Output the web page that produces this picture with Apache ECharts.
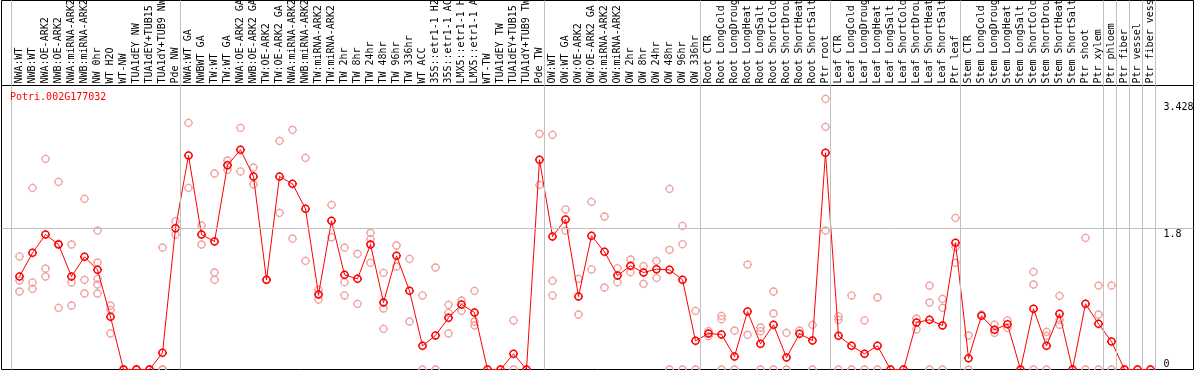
<!DOCTYPE html>
<html>
<head>
<meta charset="utf-8">
<script src="https://cdn.jsdelivr.net/npm/echarts@6/dist/echarts.min.js"></script>
<style>
html,body{margin:0;padding:0;background:#fff;}
#c{width:1194px;height:370px;}
</style>
</head>
<body>
<div id="c"></div>
<script>
const categories = [
  "NWA:WT","NWB:WT","NWA:OE-ARK2","NWB:OE-ARK2","NWA:miRNA-ARK2","NWB:miRNA-ARK2","NW 0hr","WT H2O","WT-NW","TUA1dEY NW","TUA1dEY+TUB15 NW","TUA1dY+TUB9 NW","Pde NW",
  "NWA:WT GA","NWBWT GA","TW:WT","TW:WT GA","NWA:OE-ARK2 GA","NWB:OE-ARK2 GA","TW:OE-ARK2","TW:OE-ARK2 GA","NWA:miRNA-ARK2 GA","NWB:miRNA-ARK2 GA","TW:miRNA-ARK2","TW:miRNA-ARK2 GA",
  "TW 2hr","TW 8hr","TW 24hr","TW 48hr","TW 96hr","TW 336hr","WT ACC","35S::etr1-1 H2O","35S::etr1-1 ACC","LMX5::etr1-1 H2O","LMX5::etr1-1 ACC","WT-TW","TUA1dEY TW","TUA1dEY+TUB15 TW","TUA1dY+TUB9 TW","Pde TW",
  "OW:WT","OW:WT GA","OW:OE-ARK2","OW:OE-ARK2 GA","OW:miRNA-ARK2","OW:miRNA-ARK2 GA","OW 2hr","OW 8hr","OW 24hr","OW 48hr","OW 96hr","OW 336hr",
  "Root CTR","Root LongCold","Root LongDrought","Root LongHeat","Root LongSalt","Root ShortCold","Root ShortDrought","Root ShortHeat","Root ShortSalt","Ptr root",
  "Leaf CTR","Leaf LongCold","Leaf LongDrought","Leaf LongHeat","Leaf LongSalt","Leaf ShortCold","Leaf ShortDrought","Leaf ShortHeat","Leaf ShortSalt","Ptr leaf",
  "Stem CTR","Stem LongCold","Stem LongDrought","Stem LongHeat","Stem LongSalt","Stem ShortCold","Stem ShortDrought","Stem ShortHeat","Stem ShortSalt","Ptr shoot",
  "Ptr xylem","Ptr phloem","Ptr fiber","Ptr vessel","Ptr fiber vessel"
];

const means = [
  1.187,1.489,1.723,1.596,1.187,1.438,1.272,0.672,0,0,0,0.213,1.804,
  2.732,1.723,1.634,2.609,2.804,2.464,1.145,2.464,2.370,2.051,0.957,1.898,
  1.209,1.157,1.596,0.855,1.451,1.004,0.302,0.434,0.660,0.830,0.728,0,0,0.200,0,2.677,
  1.698,1.915,0.932,1.706,1.502,1.200,1.323,1.238,1.281,1.272,1.145,0.366,
  0.460,0.447,0.166,0.740,0.328,0.570,0.153,0.455,0.370,2.766,
  0.430,0.302,0.200,0.302,0,0,0.600,0.634,0.562,1.617,
  0.145,0.685,0.506,0.579,0,0.774,0.302,0.711,0,0.838,
  0.583,0.357,0,0,0
];

const replicates = [
  [1.443,1.136,0.996],[2.319,1.111,1.030],[2.689,1.289,1.187],[2.396,0.787,1.605],[1.596,1.111,0.817],[2.179,1.145,0.970],
  [1.774,1.366,1.157,1.085,0.970],[0.817,0.762,0.460],[0,0,0],[0,0,0],[0,0,0],[1.557,0,0],[1.894,1.723],
  [3.149,2.319],[1.838,1.596],[2.502,1.238,1.145],[2.668,2.549],[3.085,2.528],[2.579,2.362],[1.145],[2.919,2.000],[3.060,1.672],
  [2.702,1.387],[1.017,0.894],[2.102,1.689],
  [1.557,1.115,0.945],[1.477,0.838],[1.745,1.664,1.362],[1.234,0.779,0.519],[1.583,1.315],[1.413,0.613],[0.945,0],[1.302,0],
  [0.826,0.723,0.460],[0.881,0.749],[1.004,0.613,0.562],[0],[0],[0.626,0],[0],[3.009,2.357],
  [2.996,1.132,0.945],[2.043,1.774],[1.157,0.702],[2.140,1.277],[1.953,1.047],[1.294,1.115],[1.404,1.243],[1.319,1.094],
  [1.387,1.170],[2.306,1.528,0],[1.834,1.600,0],[0.749,0],
  [0.489,0.426],[0.685,0.643,0],[0.498,0],[1.340,0.443],[0.536,0.489,0],[0.996,0.715,0],[0.468,0],[0.498],[0.570,0],[3.455,3.098,1.774],
  [0.677,0.634,0],[0.945,0],[0.626,0],[0.919,0],[0],[0],[0.651,0.511],[1.072,0.855,0],[0.902,0.787,0],[1.936,1.562,1.362],
  [0.434,0],[0.702],[0.574,0.468],[0.626,0.532],[0],[1.247,1.085,0],[0.481,0.430,0],[0.940,0.634,0.570],[0],[1.681,0],
  [1.072,0.702,0],[1.072,0],[0],[0],[0]
];

// index of the last category in each group (-1 = left edge)
const groupEnds = [-1, 12, 40, 52, 62, 72, 83, 84, 85, 86, 87];
const yTickLabels = [0, 1.8, 3.428];
const title = "Potri.002G177032";

const FONT = "DejaVu Sans Mono";
const GRIDC = "#c0c0c0";
// small open circle with tiny stubs at top/bottom/left/right
const SYM = "path://M4.5 0L4.5 1M4.5 8L4.5 9M0 4.5L1 4.5M8 4.5L9 4.5" +
  "M1 4.5C1 2.567 2.567 1 4.5 1C6.433 1 8 2.567 8 4.5C8 6.433 6.433 8 4.5 8C2.567 8 1 6.433 1 4.5Z";

const PX0 = 19.5, STEP = 13, GL = 1.5, GR = 0.5, W = 1194;
const xMin = (GL - PX0) / STEP;
const xMax = (W - GR - PX0) / STEP;
const yMax = 3.6255;

const repPoints = [];
replicates.forEach((arr, i) => arr.forEach(v => repPoints.push([i, v])));
const meanPoints = means.map((v, i) => [i, v]);
const sepLines = groupEnds.map(k => ({ xAxis: k + 5 / 13 }));

const chart = echarts.init(document.getElementById('c'), null, { renderer: 'canvas' });
chart.setOption({
  animation: false,
  backgroundColor: '#fff',
  title: {
    text: title, left: 10, top: 92, padding: 0,
    textStyle: { color: '#ff0000', fontFamily: FONT, fontSize: 10, fontWeight: 'normal' }
  },
  grid: [
    { left: GL, right: GR, top: 85.5, bottom: 0.5, show: true, borderColor: '#000', borderWidth: 1, backgroundColor: 'transparent', outerBoundsMode: 'none', containLabel: false },
    { left: GL, right: GR, top: 0.5, height: 85, show: true, borderColor: '#000', borderWidth: 1, backgroundColor: 'transparent', outerBoundsMode: 'none', containLabel: false },
    { left: PX0 - STEP / 2, width: STEP * categories.length, top: 85.5, bottom: 0.5, outerBoundsMode: 'none', containLabel: false }
  ],
  xAxis: [
    { type: 'value', gridIndex: 0, min: xMin, max: xMax, show: false },
    { type: 'value', gridIndex: 1, min: xMin, max: xMax, show: false },
    {
      type: 'category', gridIndex: 2, position: 'top', data: categories, boundaryGap: true,
      axisLine: { show: false }, axisTick: { show: false }, splitLine: { show: false },
      axisLabel: { interval: 0, rotate: 90, margin: 2, fontFamily: FONT, fontSize: 10, color: '#000', hideOverlap: false }
    }
  ],
  yAxis: [
    {
      type: 'value', gridIndex: 0, min: 0, max: yMax, position: 'right',
      axisLine: { show: false }, axisTick: { show: false }, splitLine: { show: false },
      axisLabel: { inside: true, customValues: [yTickLabels[0]], verticalAlign: 'bottom', align: 'left', margin: 30, fontFamily: FONT, fontSize: 10, color: '#000', showMinLabel: true }
    },
    {
      type: 'value', gridIndex: 0, min: 0, max: yMax, position: 'right',
      axisLine: { show: false }, axisTick: { show: false }, splitLine: { show: false },
      axisLabel: { inside: true, customValues: yTickLabels.slice(1), verticalAlign: 'top', align: 'left', margin: 30, padding: [1, 0, 0, 0], fontFamily: FONT, fontSize: 10, color: '#000' }
    },
    { type: 'value', gridIndex: 1, min: 0, max: 1, show: false },
    { type: 'value', gridIndex: 2, min: 0, max: 1, show: false }
  ],
  series: [
    {
      type: 'scatter', xAxisIndex: 0, yAxisIndex: 0, data: repPoints,
      symbol: SYM, symbolSize: 9, z: 2, silent: true,
      itemStyle: { color: 'rgba(0,0,0,0)', borderColor: '#f0a0a0', borderWidth: 1.3, opacity: 1 },
      emphasis: { disabled: true },
      markLine: {
        silent: true, symbol: ['none', 'none'], label: { show: false }, animation: false,
        lineStyle: { color: GRIDC, width: 1, type: 'solid' },
        emphasis: { disabled: true },
        data: sepLines.concat([{ yAxis: 1.8 }])
      }
    },
    {
      type: 'scatter', xAxisIndex: 1, yAxisIndex: 2, data: [], silent: true,
      markLine: {
        silent: true, symbol: ['none', 'none'], label: { show: false }, animation: false,
        lineStyle: { color: GRIDC, width: 1, type: 'solid' },
        emphasis: { disabled: true },
        data: sepLines
      }
    },
    {
      type: 'line', xAxisIndex: 0, yAxisIndex: 0, data: meanPoints,
      symbol: SYM, symbolSize: 9, showAllSymbol: true, z: 3, silent: true, clip: false,
      lineStyle: { color: '#ff0000', width: 1 },
      itemStyle: { color: 'rgba(0,0,0,0)', borderColor: '#ff0000', borderWidth: 1.5 },
      emphasis: { disabled: true }
    }
  ]
});
</script>
</body>
</html>
